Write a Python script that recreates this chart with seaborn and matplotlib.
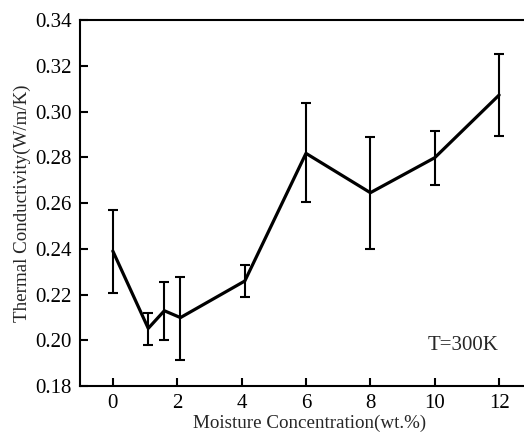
import matplotlib
matplotlib.use("Agg")
import matplotlib.pyplot as plt
import seaborn as sns
import pandas as pd

moisture = [0, 1.1, 1.6, 2.1, 4.1, 6, 8, 10, 12]
conductivity = [0.239, 0.2052, 0.2129, 0.2099, 0.2259, 0.2817, 0.2645, 0.2798, 0.3072]
err_upper = [0.257, 0.2119, 0.2255, 0.2278, 0.2328, 0.3036, 0.2889, 0.2915, 0.3253]
err_lower = [0.2205, 0.198, 0.2001, 0.1914, 0.2189, 0.2603, 0.2398, 0.2679, 0.2891]
xticks = [0, 2, 4, 6, 8, 10, 12]
yticks = [0.18, 0.20, 0.22, 0.24, 0.26, 0.28, 0.30, 0.32, 0.34]

sns.set_style("ticks")
plt.rcParams['font.family'] = ['Liberation Serif', 'DejaVu Serif']

df = pd.DataFrame({"x": moisture, "y": conductivity})

fig = plt.figure(figsize=(5.24, 4.32), dpi=100)
ax = fig.add_axes([80/524, 46/432, 460/524, 366/432])
sns.lineplot(data=df, x="x", y="y", ax=ax, color="black", linewidth=2.3)
yerr = [[c - l for c, l in zip(conductivity, err_lower)],
        [u - c for c, u in zip(conductivity, err_upper)]]
ax.errorbar(moisture, conductivity, yerr=yerr, fmt="none", ecolor="black",
            elinewidth=1.5, capsize=3.5, capthick=1.5)

ax.set_xlim(-1.02, 13.27)
ax.set_ylim(0.18, 0.34)
ax.set_xticks(xticks)
ax.set_xticklabels([str(t) for t in xticks])
ax.set_yticks(yticks)
ax.set_yticklabels([f"{t:.2f}" for t in yticks])
ax.tick_params(direction="in", length=6, width=1.5, labelsize=15, colors="black")
ax.tick_params(axis="x", pad=6)
ax.tick_params(axis="y", pad=6)
ax.set_xlabel("Moisture Concentration(wt.%)", fontsize=13.7, labelpad=1)
ax.set_ylabel("Thermal Conductivity(W/m/K)", fontsize=13.7, labelpad=3)
for s in ax.spines.values():
    s.set_linewidth(1.5)
    s.set_color("black")
ax.text(499/524, (432-346)/432, "T=300K", transform=fig.transFigure, ha="right", va="center", fontsize=15)

fig.savefig("out.png", dpi=100)
